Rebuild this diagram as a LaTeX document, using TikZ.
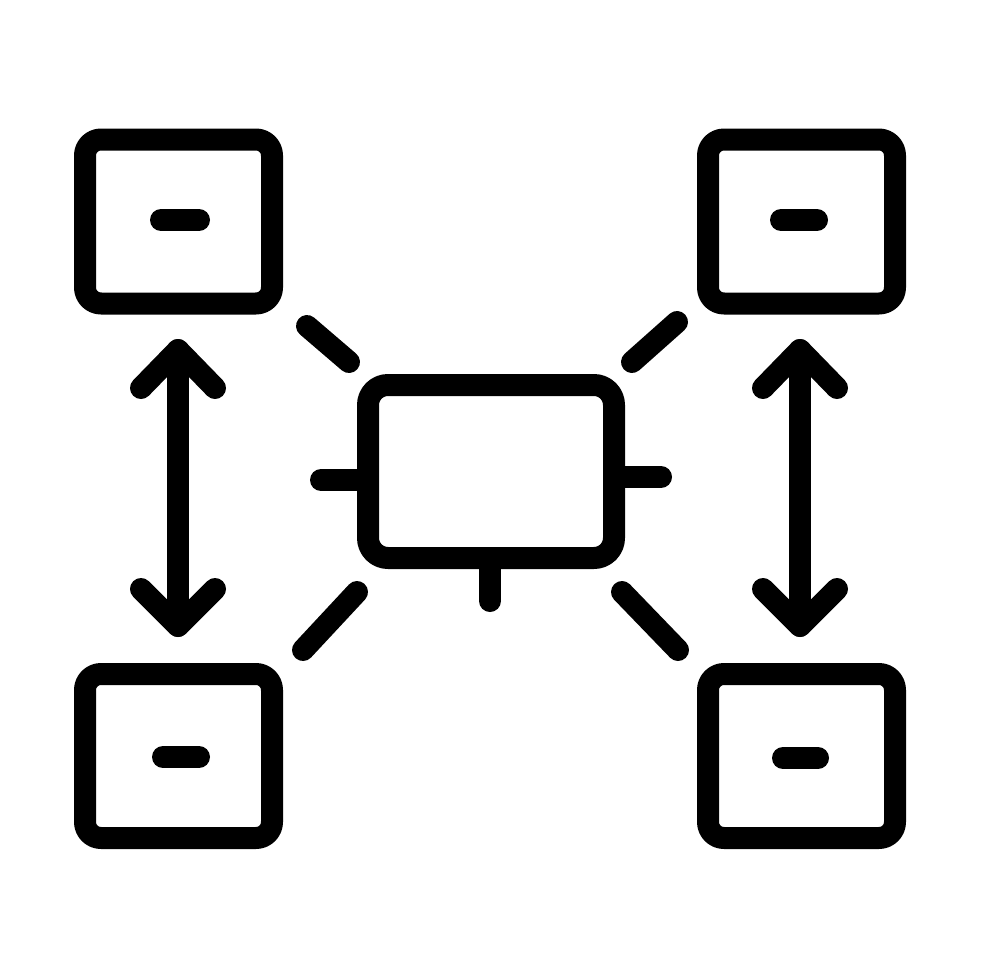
\documentclass[tikz,border=0pt]{standalone}
\begin{document}
\begin{tikzpicture}[x=1pt,y=-1pt,
  stroke/.style={line width=22pt,line cap=round,line join=round},
  boxstyle/.style={draw,stroke,rectangle,rounded corners=16pt,inner sep=0pt,minimum width=187pt,minimum height=164pt},
  hubstyle/.style={draw,stroke,rectangle,rounded corners=20pt,inner sep=0pt,minimum width=246pt,minimum height=173pt}]
\useasboundingbox[fill=white] (0,0) rectangle (980,980);
% boxes
\node[boxstyle] (tl) at (178.5,221.5) {};
\node[boxstyle] (tr) at (801.5,221.5) {};
\node[boxstyle] (bl) at (178.5,756) {};
\node[boxstyle] (br) at (801.5,756) {};
\node[hubstyle] (hub) at (491,471.5) {};
% minus signs
\draw[stroke] (161,220) -- (199,220);
\draw[stroke] (781,220) -- (817,220);
\draw[stroke] (163,757) -- (199,757);
\draw[stroke] (783,758) -- (818,758);
% stubs of hub
\coordinate (sl) at (321,480);
\coordinate (sr) at (661,477);
\coordinate (sb) at (490,601);
\draw[stroke] (hub.west |- sl) -- (sl);
\draw[stroke] (hub.east |- sr) -- (sr);
\draw[stroke] (hub.south -| sb) -- (sb);
% diagonal rays
\draw[stroke] (307,326) -- (349,362);
\draw[stroke] (677,322) -- (632,362);
\draw[stroke] (357,592) -- (303,650);
\draw[stroke] (622,592) -- (678,650);
% arrows
\foreach \x [count=\i] in {178,800}{
  \coordinate (at\i) at (\x,350);
  \coordinate (ab\i) at (\x,626);
  \draw[stroke] (at\i) -- (ab\i);
  \draw[stroke] ([xshift=-37pt,yshift=-38pt]at\i) -- (at\i) -- ([xshift=37pt,yshift=-38pt]at\i);
  \draw[stroke] ([xshift=-37pt,yshift=37pt]ab\i) -- (ab\i) -- ([xshift=37pt,yshift=37pt]ab\i);
}
\end{tikzpicture}
\end{document}
